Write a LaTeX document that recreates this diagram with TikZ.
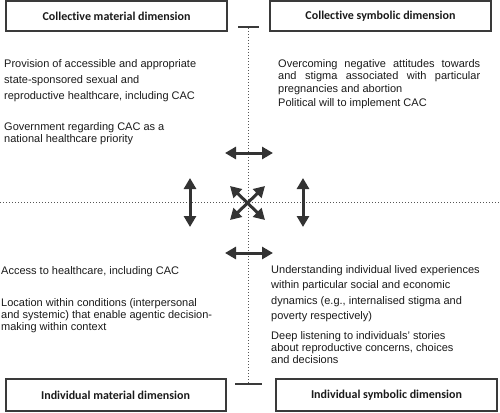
\documentclass[tikz,border=0pt]{standalone}
\usepackage{fontspec}
\setmainfont{Liberation Sans}
\newfontfamily\titlefont[Ligatures=CommonOff]{Carlito}
\usetikzlibrary{arrows.meta}
\definecolor{boxgray}{HTML}{3A3A3A}
\definecolor{arrowgray}{HTML}{333333}
\definecolor{dotgray}{HTML}{555555}
\definecolor{txt}{HTML}{1A1A1A}
\begin{document}
\begin{tikzpicture}[x=1pt,y=-1pt,
  dimbox/.style={draw=boxgray, line width=2pt, inner sep=0pt, text=txt,
    font=\titlefont\bfseries\fontsize{12}{14}\selectfont},
  bodytext/.style={anchor=north west, inner sep=0pt, align=left, text=txt},
  dblarrow/.style={draw=arrowgray, line width=3pt,
    {Triangle[length=11pt,width=12pt]}-{Triangle[length=11pt,width=12pt]}},
  dotline/.style={draw=dotgray, line width=1pt, dash pattern=on 1pt off 2pt},
  tickline/.style={draw=boxgray, line width=1.2pt}]
\useasboundingbox (0,0) rectangle (500,412);
% dotted axes
\coordinate (vtop) at (248,28);
\coordinate (vbot) at (248,383);
\coordinate (hleft) at (0,202);
\coordinate (hright) at (500,202);
\draw[dotline] (vtop) -- (vbot);
\draw[dotline] (hleft) -- (hright);
% ticks
\coordinate (t1) at (238,27);
\coordinate (t2) at (259,27);
\coordinate (b1) at (235,384);
\coordinate (b2) at (262,384);
\draw[tickline] (t1) -- (t2);
\draw[tickline] (b1) -- (b2);
% boxes
\node[dimbox, minimum width=221pt, minimum height=30pt] (cmd) at (116.5,16) {Collective material dimension};
\node[dimbox, minimum width=221pt, minimum height=30pt] (csd) at (380.5,16) {Collective symbolic dimension};
\node[dimbox, minimum width=220pt, minimum height=32pt] (imd) at (115.5,395) {Individual material dimension};
\node[dimbox, minimum width=221pt, minimum height=32pt] (isd) at (386.5,395) {Individual symbolic dimension};
% texts
\node[bodytext, font=\fontsize{11}{16}\selectfont] (p1) at (4,58)
  {\rule{0pt}{9pt}Provision of accessible and appropriate\\state-sponsored sexual and\\reproductive healthcare, including CAC};
\node[bodytext, font=\fontsize{11}{12}\selectfont] (p2) at (4,121)
  {\rule{0pt}{9pt}Government regarding CAC as a\\national healthcare priority};
\node[bodytext, font=\fontsize{11}{12.5}\selectfont] (p3) at (278,58)
  {\rule{0pt}{9pt}\makebox[202pt][s]{Overcoming negative attitudes towards}\\\makebox[202pt][s]{and stigma associated with particular}\\pregnancies and abortion};
\node[bodytext, font=\fontsize{11}{12}\selectfont] (p4) at (278,97)
  {\rule{0pt}{9pt}Political will to implement CAC};
\node[bodytext, font=\fontsize{11}{12}\selectfont] (p5) at (1,265)
  {\rule{0pt}{9pt}Access to healthcare, including CAC};
\node[bodytext, font=\fontsize{11}{12}\selectfont] (p6) at (1,297)
  {\rule{0pt}{9pt}Location within conditions (interpersonal\\and systemic) that enable agentic decision-\\making within context};
\node[bodytext, font=\fontsize{11}{15.5}\selectfont] (p7) at (271,264)
  {\rule{0pt}{9pt}Understanding individual lived experiences\\within particular social and economic\\dynamics (e.g., internalised stigma and\\poverty respectively)};
\node[bodytext, font=\fontsize{11}{12}\selectfont] (p8) at (271,330)
  {\rule{0pt}{9pt}Deep listening to individuals' stories\\about reproductive concerns, choices\\and decisions};
% arrows
\coordinate (a1l) at (225,153); \coordinate (a1r) at (273,153);
\coordinate (a2l) at (225,253); \coordinate (a2r) at (273,253);
\coordinate (a3t) at (190,178); \coordinate (a3b) at (190,227);
\coordinate (a4t) at (303,178); \coordinate (a4b) at (303,227);
\coordinate (x1) at (230,186); \coordinate (x2) at (265,220);
\coordinate (x3) at (265,186); \coordinate (x4) at (230,220);
\draw[dblarrow] (a1l) -- (a1r);
\draw[dblarrow] (a2l) -- (a2r);
\draw[dblarrow] (a3t) -- (a3b);
\draw[dblarrow] (a4t) -- (a4b);
\draw[dblarrow] (x1) -- (x2);
\draw[dblarrow] (x3) -- (x4);
\end{tikzpicture}
\end{document}
